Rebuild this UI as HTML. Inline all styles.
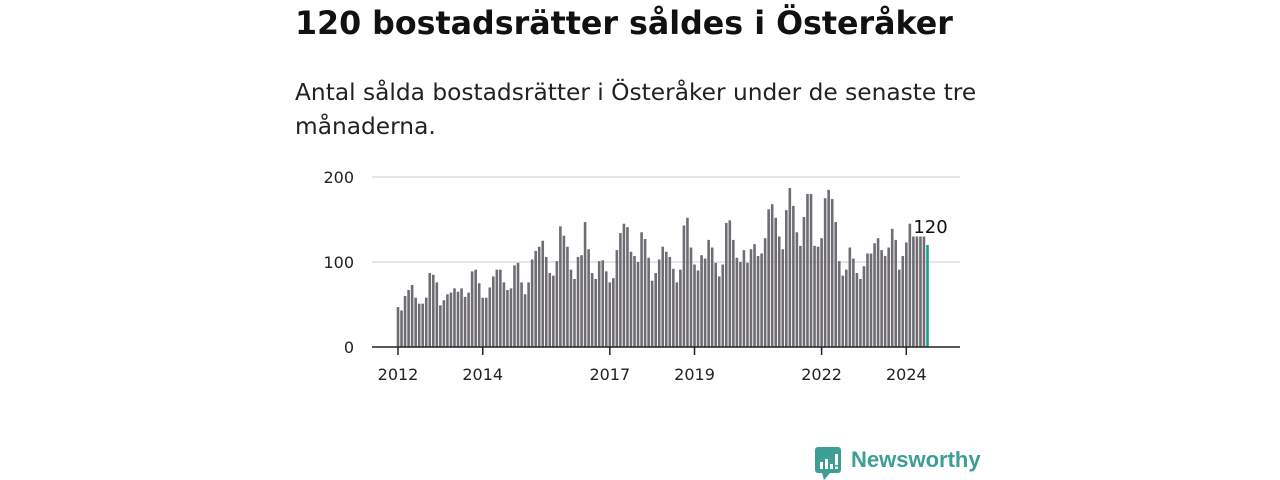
<!DOCTYPE html>
<html><head><meta charset="utf-8"><style>
body{margin:0;width:1280px;height:480px;background:#fff;font-family:"DejaVu Sans",sans-serif;overflow:hidden;position:relative}
h1{position:absolute;left:295px;top:1px;margin:0;font-size:31.7px;line-height:46px;font-weight:bold;color:#111;white-space:nowrap}
p.sub{position:absolute;left:295px;top:76px;margin:0;width:700px;font-size:23.3px;line-height:34px;color:#222}
svg{position:absolute;left:0;top:0}
</style></head><body>
<h1>120 bostadsrätter såldes i Österåker</h1>
<p class="sub">Antal sålda bostadsrätter i Österåker under de senaste tre månaderna.</p>
<svg id="c" width="1280" height="480"></svg>
<script>
const values=[47,43,60,67,73,58,51,51,58,87,85,76,
49,55,62,64,69,65,69,59,64,89,91,75,
58,58,70,83,91,91,76,67,69,96,99,76,
62,76,103,113,118,125,106,87,84,101,142,131,
118,91,80,106,108,147,115,87,80,101,102,89,
76,81,114,134,145,141,112,107,100,135,127,105,
78,87,103,118,112,106,92,76,91,143,152,117,
97,90,108,104,126,117,99,83,97,146,149,126,
105,100,114,99,115,121,107,110,128,162,168,152,
130,115,161,187,166,135,119,153,180,180,119,118,
128,175,185,174,147,101,84,91,117,104,87,80,
95,110,110,122,128,114,107,117,139,126,91,107,
123,145,130,130,130,130,120];
const startYear=2012;
const yTicks=[0,100,200];
const xTickYears=[2012,2014,2017,2019,2022,2024];
const NS="http://www.w3.org/2000/svg";
const svg=document.getElementById('c');
const x0=398,pxPerMonth=3.53,yBase=347,pxPerUnit=0.85;
const xs=i=>x0+pxPerMonth*i;
const ys=v=>yBase-v*pxPerUnit;
function mk(t,a){const e=document.createElementNS(NS,t);for(const k in a)e.setAttribute(k,a[k]);svg.appendChild(e);return e;}
yTicks.forEach(t=>{
 if(t>0){const g=mk('line',{x1:372,x2:960,y1:ys(t),y2:ys(t),stroke:'#ddd','stroke-width':1.5});
 
 }
 const l=mk('text',{x:354,y:ys(t)+6,'text-anchor':'end','font-size':16,fill:'#222','font-family':'DejaVu Sans, sans-serif'});
 l.textContent=t;
 
 
});
values.forEach((v,i)=>{
 const last=i===values.length-1;
 const r=mk('rect',{x:xs(i)-1.3,y:ys(v),width:2.6,height:v*pxPerUnit,fill:last?'#1a9e8f':'#6f6d73'});
 
 
});
const ax=mk('line',{x1:372,x2:960,y1:yBase,y2:yBase,stroke:'#222','stroke-width':1.5});


xTickYears.forEach(y=>{
 const x=xs((y-startYear)*12);
 const t=mk('line',{x1:x,x2:x,y1:yBase,y2:yBase+8,stroke:'#222','stroke-width':1.5});
 
 
 const l=mk('text',{x:x,y:380,'text-anchor':'middle','font-size':16,fill:'#222','font-family':'DejaVu Sans, sans-serif'});
 l.textContent=y;
 
 
});
const li=values.length-1;
const vl=mk('text',{x:xs(li)+3,y:ys(values[li])-12,'text-anchor':'middle','font-size':18,fill:'#111','stroke':'#fff','stroke-width':3,'paint-order':'stroke','font-family':'DejaVu Sans, sans-serif'});
vl.textContent=values[li];


</script>
<div style="position:absolute;left:815px;top:447px;display:flex;align-items:center">
 <svg width="26" height="33" viewBox="0 0 26 33" style="position:static"><rect x="0" y="0" width="26" height="26" rx="3" fill="#3d9f94"/><polygon points="7,26 15,26 9,33" fill="#3d9f94"/><rect x="5" y="15" width="3" height="7" fill="#fff"/><rect x="10" y="12" width="3" height="10" fill="#fff"/><rect x="15" y="17" width="3" height="5" fill="#fff"/><rect x="20" y="7" width="3" height="11" fill="#fff"/><rect x="20" y="19.5" width="3" height="2.5" fill="#fff"/></svg>
 <span style="margin-left:10px;font-family:'Liberation Sans',sans-serif;font-size:22px;color:#3d9f94;font-weight:bold;margin-top:-8px">Newsworthy</span>
</div>
</body></html>
